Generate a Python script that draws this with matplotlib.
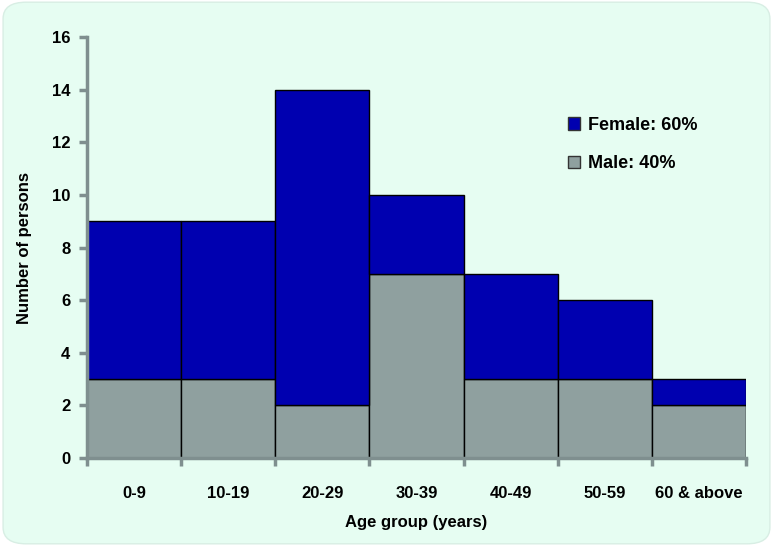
import matplotlib
matplotlib.use('Agg')
import matplotlib.pyplot as plt
from matplotlib.patches import FancyBboxPatch, Patch
import numpy as np

plt.rcParams['font.family'] = ['Liberation Sans', 'DejaVu Sans']
plt.rcParams['font.weight'] = 'bold'

age_groups = ['0-9', '10-19', '20-29', '30-39', '40-49', '50-59', '60 & above']
male = [3, 3, 2, 7, 3, 3, 2]
female = [6, 6, 12, 3, 4, 3, 1]

bg = '#e6fdf2'
blue = '#0000b0'
grey = '#8fa09f'
spine = '#7f8f8f'

fig = plt.figure(figsize=(7.73, 5.46), dpi=100)
fig.patch.set_facecolor('white')
box = FancyBboxPatch((0.004, 0.004), 0.992, 0.992, boxstyle='round,pad=0,rounding_size=0.03',
                     transform=fig.transFigure, facecolor=bg, edgecolor='#d8eee4', lw=1, zorder=-10)
fig.patches.append(box)

ax = fig.add_axes([0.1125, 0.161, 0.8525, 0.771])
ax.set_facecolor('none')
ax.set_zorder(5)

x = np.arange(len(age_groups))
ax.bar(x, male, width=1, align='edge', color=grey, edgecolor='black', linewidth=1)
ax.bar(x, female, width=1, bottom=male, align='edge', color=blue, edgecolor='black', linewidth=1)

ax.set_xlim(0, len(age_groups))
ax.set_ylim(0, 16)
ax.set_yticks(range(0, 17, 2))
ax.set_xticks(range(len(age_groups) + 1))
ax.set_xticklabels([])
ax.set_xticks(x + 0.5, minor=True)
ax.set_xticklabels(age_groups, minor=True)
ax.tick_params(axis='x', which='minor', length=0, pad=20, labelsize=12)
ax.tick_params(axis='x', which='major', length=6, width=2.5, color=spine, direction='out')
ax.tick_params(axis='y', length=6, width=2.5, color=spine, labelsize=12, pad=6)

for s in ['top', 'right']:
    ax.spines[s].set_visible(False)
for s in ['left', 'bottom']:
    ax.spines[s].set_color(spine)
    ax.spines[s].set_linewidth(2.5)

ax.set_xlabel('Age group (years)', fontsize=12, fontweight='bold', labelpad=10)
ax.set_ylabel('Number of persons', fontsize=12, fontweight='bold', labelpad=14)

handles = [Patch(facecolor=blue, edgecolor='#333333', label='Female: 60%'),
           Patch(facecolor=grey, edgecolor='#333333', label='Male: 40%')]
leg = ax.legend(handles=handles, loc='upper left', bbox_to_anchor=(0.705, 0.85), frameon=False,
                fontsize=13, handlelength=0.7, handleheight=0.7, handletextpad=0.4, labelspacing=1.2)

fig.savefig('out.png', dpi=100, facecolor=fig.get_facecolor())
